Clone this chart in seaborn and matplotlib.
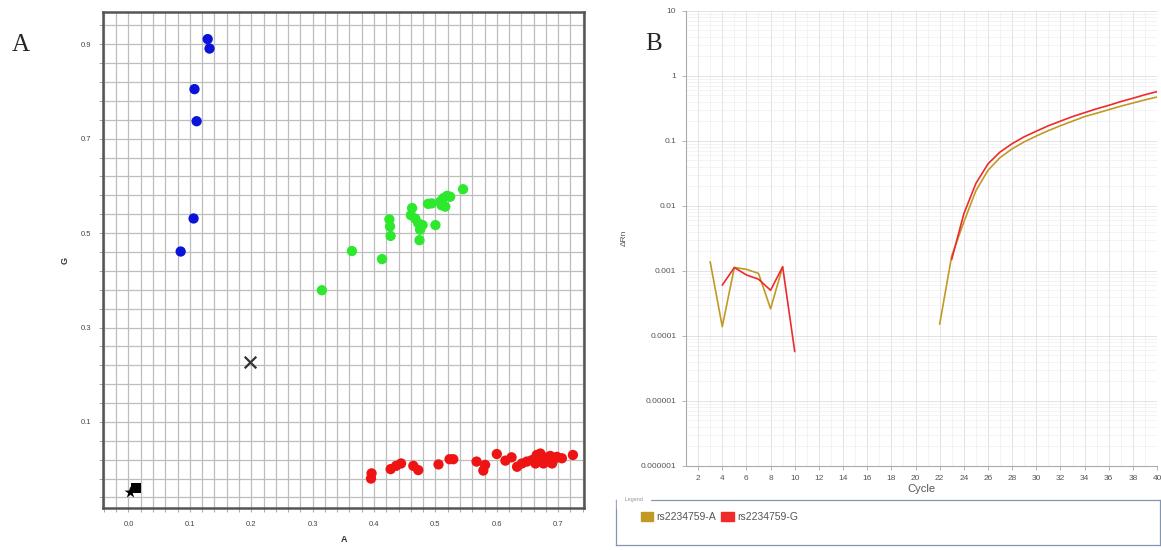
import numpy as np
import pandas as pd
import matplotlib
matplotlib.use("Agg")
import matplotlib.pyplot as plt
import seaborn as sns
from matplotlib.ticker import FixedLocator, LogLocator, NullFormatter, FixedFormatter
from matplotlib.patches import Patch

# ---------------- Panel A: allelic discrimination data ----------------
homG_A = [0.129, 0.132, 0.1075, 0.111, 0.106, 0.085]
homG_G = [0.911, 0.891, 0.805, 0.737, 0.531, 0.461]

het_A = [0.315, 0.364, 0.413, 0.425, 0.426, 0.427, 0.462, 0.460, 0.467, 0.472, 0.475, 0.474,
         0.479, 0.500, 0.488, 0.494, 0.508, 0.513, 0.519, 0.516, 0.510, 0.524, 0.545]
het_G = [0.379, 0.462, 0.445, 0.529, 0.514, 0.494, 0.553, 0.538, 0.531, 0.521, 0.507, 0.485,
         0.517, 0.517, 0.562, 0.563, 0.567, 0.574, 0.579, 0.556, 0.559, 0.577, 0.593]

homA_A = [0.396, 0.395, 0.427, 0.436, 0.444, 0.464, 0.472, 0.505, 0.523, 0.529, 0.567, 0.581,
          0.578, 0.600, 0.614, 0.624, 0.633, 0.641, 0.649, 0.657, 0.665, 0.671, 0.676, 0.681,
          0.687, 0.692, 0.698, 0.706, 0.724, 0.663, 0.676, 0.690]
homA_G = [-0.009, -0.020, 0.000, 0.007, 0.012, 0.007, -0.002, 0.010, 0.021, 0.021, 0.016, 0.009,
          -0.003, 0.032, 0.018, 0.025, 0.005, 0.012, 0.016, 0.019, 0.030, 0.033, 0.025, 0.016,
          0.028, 0.019, 0.026, 0.023, 0.030, 0.012, 0.012, 0.012]

undet_A = [0.198]
undet_G = [0.227]
ntc_sq_A = [0.0125]
ntc_sq_G = [-0.041]
ntc_star_A = [0.003]
ntc_star_G = [-0.048]

xtick_labels_A = ["0.0", "0.1", "0.2", "0.3", "0.4", "0.5", "0.6", "0.7"]
ytick_labels_A = ["0.1", "0.3", "0.5", "0.7", "0.9"]

# ---------------- Panel B: amplification plot data ----------------
cyc_A_early = [3, 4, 5, 6, 7, 8, 9]
drn_A_early = [0.00137, 0.000138, 0.00112, 0.00105, 0.00091, 0.00026, 0.00115]
cyc_G_early = [4, 5, 6, 7, 8, 9, 10]
drn_G_early = [0.0006, 0.00112, 0.00086, 0.00074, 0.0005, 0.00115, 0.000057]

cyc_A_amp = [22, 23, 24, 25, 26, 27, 28, 29, 30, 31, 32, 33, 34, 35, 36, 37, 38, 39, 40]
drn_A_amp = [0.00015, 0.0017, 0.0056, 0.017, 0.035, 0.055, 0.075, 0.096, 0.118, 0.143,
             0.17, 0.20, 0.235, 0.265, 0.30, 0.34, 0.38, 0.425, 0.47]
cyc_G_amp = [23, 24, 25, 26, 27, 28, 29, 30, 31, 32, 33, 34, 35, 36, 37, 38, 39, 40]
drn_G_amp = [0.0015, 0.0075, 0.022, 0.044, 0.067, 0.09, 0.115, 0.14, 0.17, 0.20,
             0.235, 0.27, 0.31, 0.35, 0.40, 0.45, 0.51, 0.57]

targets = ["rs2234759-A", "rs2234759-G"]
cycle_ticks = [2, 4, 6, 8, 10, 12, 14, 16, 18, 20, 22, 24, 26, 28, 30, 32, 34, 36, 38, 40]
drn_tick_labels = ["0.000001", "0.00001", "0.0001", "0.001", "0.01", "0.1", "1", "10"]

# ---------------- styling ----------------
sns.set_theme(style="white")
plt.rcParams["font.family"] = ["Liberation Sans", "DejaVu Sans"]

colA = "#c09a24"
colG = "#ee2a2a"

fig = plt.figure(figsize=(11.61, 5.5), dpi=100)

# ======== Panel A ========
axA = fig.add_axes([0.089, 0.0758, 0.414, 0.9029])

clusters = pd.DataFrame({
    "A": homG_A + het_A + homA_A,
    "G": homG_G + het_G + homA_G,
    "cluster": ["GG"] * len(homG_A) + ["AG"] * len(het_A) + ["AA"] * len(homA_A),
})
sns.scatterplot(data=clusters, x="A", y="G", hue="cluster",
                palette={"GG": "#0a14d8", "AG": "#2ee82e", "AA": "#ee1414"},
                s=55, linewidth=0, legend=False, ax=axA, zorder=3)
sns.scatterplot(x=undet_A, y=undet_G, marker="x", s=70, color="#333333",
                linewidth=1.6, ax=axA, zorder=3)
sns.scatterplot(x=ntc_sq_A, y=ntc_sq_G, marker="s", s=55, color="black",
                linewidth=0, ax=axA, zorder=3)
sns.scatterplot(x=ntc_star_A, y=ntc_star_G, marker="*", s=80, color="black",
                linewidth=0, ax=axA, zorder=3)

axA.set_xlim(-0.041, 0.742)
axA.set_ylim(-0.083, 0.969)
axA.xaxis.set_major_locator(FixedLocator(np.arange(0, 8) / 10))
axA.xaxis.set_major_formatter(FixedFormatter(xtick_labels_A))
axA.xaxis.set_minor_locator(FixedLocator(np.arange(-0.04, 0.745, 0.02)))
axA.yaxis.set_major_locator(FixedLocator([0.1, 0.3, 0.5, 0.7, 0.9]))
axA.yaxis.set_major_formatter(FixedFormatter(ytick_labels_A))
axA.yaxis.set_minor_locator(FixedLocator(np.arange(-0.06, 0.95, 0.04)))
axA.grid(True, which="both", color="#bdbdbd", linewidth=0.9, zorder=0)
axA.set_axisbelow(True)
axA.tick_params(axis="both", which="both", direction="out", length=3, width=0.6,
                color="#999999", labelsize=5.5, labelcolor="#444444", pad=6,
                bottom=True, left=True)
for sp in axA.spines.values():
    sp.set_color("#555555")
    sp.set_linewidth(1.8)
axA.set_xlabel("A", fontsize=6.5, fontweight="bold", color="#333333", labelpad=5)
axA.set_ylabel("G", fontsize=6.5, fontweight="bold", color="#333333", labelpad=8)

# ======== Panel B ========
axB = fig.add_axes([0.5909, 0.1533, 0.4057, 0.8272])

rows = []
for cyc, vals, tgt, seg in [(cyc_A_early, drn_A_early, targets[0], "early"),
                            (cyc_A_amp, drn_A_amp, targets[0], "amp"),
                            (cyc_G_early, drn_G_early, targets[1], "early"),
                            (cyc_G_amp, drn_G_amp, targets[1], "amp")]:
    for c, v in zip(cyc, vals):
        rows.append({"Cycle": c, "dRn": v, "target": tgt, "segment": seg})
amp = pd.DataFrame(rows)

sns.lineplot(data=amp, x="Cycle", y="dRn", hue="target", hue_order=targets,
             units="segment", estimator=None, palette={targets[0]: colA, targets[1]: colG},
             linewidth=1.2, legend=False, ax=axB, zorder=3)

axB.set_yscale("log")
axB.set_ylim(1e-6, 10)
axB.set_xlim(1, 40)
axB.xaxis.set_major_locator(FixedLocator(cycle_ticks))
axB.xaxis.set_major_formatter(FixedFormatter([str(c) for c in cycle_ticks]))
axB.xaxis.set_minor_locator(FixedLocator(np.arange(1, 41, 1)))
axB.yaxis.set_major_locator(FixedLocator([1e-6, 1e-5, 1e-4, 1e-3, 1e-2, 1e-1, 1, 10]))
axB.yaxis.set_major_formatter(FixedFormatter(drn_tick_labels))
axB.yaxis.set_minor_locator(LogLocator(base=10, subs=np.arange(2, 10), numticks=20))
axB.yaxis.set_minor_formatter(NullFormatter())
axB.grid(True, which="major", color="#dedede", linewidth=0.6, zorder=0)
axB.grid(True, which="minor", color="#efefef", linewidth=0.5, zorder=0)
axB.set_axisbelow(True)
axB.tick_params(axis="both", which="major", direction="out", length=3, width=0.6,
                color="#aaaaaa", labelsize=6, labelcolor="#555555", pad=4,
                bottom=True, left=True)
axB.tick_params(axis="both", which="minor", length=0)
for side in ["top", "right"]:
    axB.spines[side].set_visible(False)
for side in ["left", "bottom"]:
    axB.spines[side].set_color("#aaaaaa")
    axB.spines[side].set_linewidth(0.8)
axB.set_xlabel("Cycle", fontsize=8, color="#555555", labelpad=1)
axB.set_ylabel("ΔRn", fontsize=6, color="#555555", labelpad=9)

# legend box
legax = fig.add_axes([0.531, 0.009, 0.468, 0.082])
legax.set_xticks([])
legax.set_yticks([])
legax.set_facecolor("white")
for sp in legax.spines.values():
    sp.set_color("#8496ab")
    sp.set_linewidth(0.9)
handles = [Patch(facecolor=colA, edgecolor=colA), Patch(facecolor=colG, edgecolor=colG)]
legax.legend(handles, targets, loc="center left", bbox_to_anchor=(0.035, 0.62), ncol=2,
             frameon=False, fontsize=7.5, handlelength=1.2, handleheight=0.9,
             handletextpad=0.3, columnspacing=0.5, labelcolor="#555555", borderpad=0)
legax.text(0.012, 1.0, " Legend ", transform=legax.transAxes, fontsize=4,
           color="#999999", va="center", ha="left", backgroundcolor="white")

# panel letters
fig.text(0.010, 0.918, "A", family=["Liberation Serif", "DejaVu Serif"], fontsize=18,
         va="center", ha="left")
fig.text(0.5555, 0.920, "B", family=["Liberation Serif", "DejaVu Serif"], fontsize=18,
         va="center", ha="left")

fig.savefig("out.png", dpi=100)
